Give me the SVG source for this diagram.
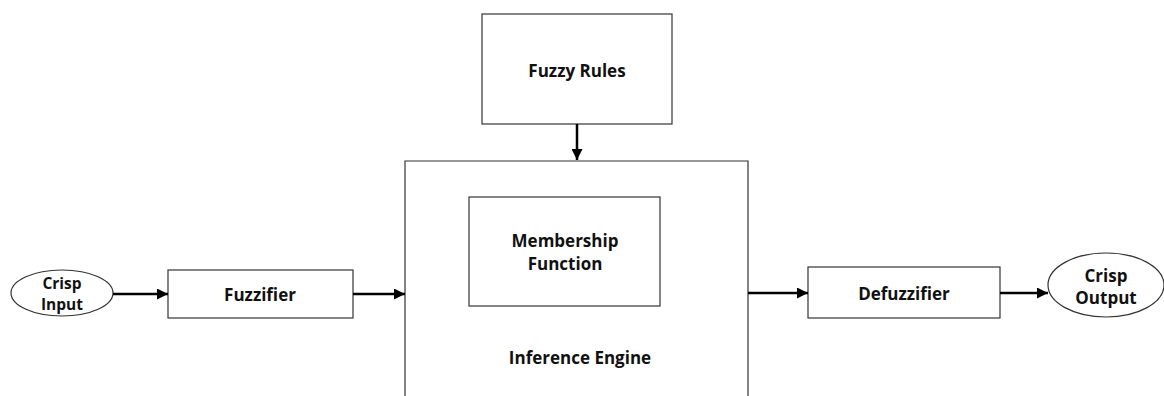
<svg xmlns="http://www.w3.org/2000/svg" width="1164" height="396" viewBox="0 0 1164 396">
<defs>
<marker id="ah" viewBox="0 0 10 10" refX="10" refY="5" markerWidth="4.4" markerHeight="4.4" orient="auto" markerUnits="strokeWidth">
<path d="M0,0 L10,5 L0,10 z" fill="#000"/>
</marker>
<style>
.box{fill:#fff;stroke:#333;stroke-width:1.2}
.t{font-family:"Open Sans","Liberation Sans",sans-serif;font-weight:bold;font-size:17px;fill:#111;text-anchor:middle;dominant-baseline:central}
.s{font-size:15.5px}
.c{stroke:#000;stroke-width:2.5;fill:none;marker-end:url(#ah)}
</style>
</defs>
<rect width="1164" height="396" fill="#fff"/>
<g id="inference-engine">
<path class="box" d="M405,400 V161 H748 V400"/>
<text class="t" x="580" y="357">Inference Engine</text>
</g>
<g id="fuzzy-rules">
<rect class="box" x="482" y="14" width="190" height="110"/>
<text class="t" x="577" y="70">Fuzzy Rules</text>
</g>
<g id="membership-function">
<rect class="box" x="469" y="197" width="191" height="109"/>
<text class="t" x="565" y="240">Membership</text>
<text class="t" x="565" y="263">Function</text>
</g>
<g id="crisp-input">
<ellipse class="box" cx="62" cy="293" rx="51" ry="23"/>
<text class="t s" x="62" y="283">Crisp</text>
<text class="t s" x="62" y="304">Input</text>
</g>
<g id="fuzzifier">
<rect class="box" x="168" y="270" width="185" height="48"/>
<text class="t" x="260" y="294">Fuzzifier</text>
</g>
<g id="defuzzifier">
<rect class="box" x="808" y="267" width="192" height="51"/>
<text class="t" x="904" y="293">Defuzzifier</text>
</g>
<g id="crisp-output">
<ellipse class="box" cx="1106" cy="285" rx="58" ry="32"/>
<text class="t" x="1106" y="275">Crisp</text>
<text class="t" x="1106" y="297">Output</text>
</g>
<g id="connectors">
<line class="c" x1="113" y1="294" x2="168" y2="294"/>
<line class="c" x1="353" y1="294" x2="405" y2="294"/>
<line class="c" x1="577" y1="124" x2="577" y2="160"/>
<line class="c" x1="748" y1="293" x2="808" y2="293"/>
<line class="c" x1="1000" y1="293" x2="1048" y2="293"/>
</g>
</svg>
